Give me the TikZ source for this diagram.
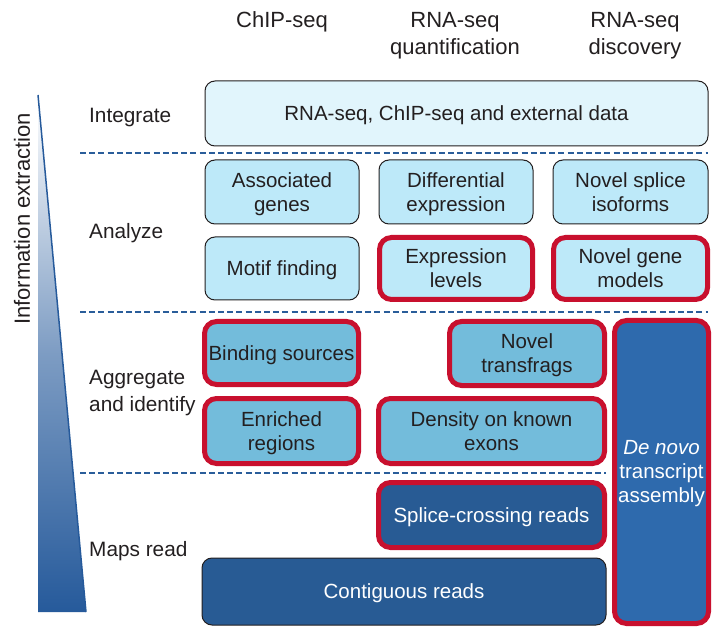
\documentclass[tikz,border=0pt]{standalone}
\usepackage{fontspec}
\setmainfont{Liberation Sans}
\usetikzlibrary{shadings}
\definecolor{txt}{RGB}{35,31,32}
\definecolor{palefill}{RGB}{225,245,252}
\definecolor{lightfill}{RGB}{189,233,249}
\definecolor{midfill}{RGB}{115,188,219}
\definecolor{darkfill}{RGB}{40,91,148}
\definecolor{novofill}{RGB}{46,106,173}
\definecolor{hl}{RGB}{200,16,46}
\definecolor{dashc}{RGB}{42,93,154}
\definecolor{tri}{RGB}{38,90,155}
\begin{document}
\begin{tikzpicture}[x=1pt,y=-1pt,
  base/.style={rounded corners=10pt, align=center, inner sep=0pt, text=txt,
    font=\fontsize{20.5}{24}\selectfont, text depth=-3pt},
  thinbox/.style={base, draw=txt, line width=1pt},
  redbox/.style={base, draw=hl, line width=5pt, rounded corners=12pt},
  pale/.style={fill=palefill},
  light/.style={fill=lightfill},
  mid/.style={fill=midfill},
  dark/.style={fill=darkfill, text=white},
  novo/.style={fill=novofill, text=white},
  header/.style={align=center, text=txt, font=\fontsize{22}{27}\selectfont, inner sep=0pt},
  rowlabel/.style={align=left, anchor=west, text=txt, font=\fontsize{20.8}{27}\selectfont, inner sep=0pt},
  sep/.style={dashc, line width=2.5pt, dash pattern=on 6pt off 3.2pt}
]
\useasboundingbox (0,0) rectangle (715,644);
% triangle
\shade[top color=white, bottom color=tri, middle color={tri!60}] (38,95) -- (86,612) -- (38,612) -- cycle;
\draw[tri, line width=1.5pt] (38,95) -- (86,612);
\node[rotate=90, text=txt, font=\fontsize{22}{26}\selectfont, inner sep=0pt] (ie) at (22,219) {Information extraction};
% headers
\node[header] (h1) at (282,22) {ChIP-seq};
\node[header] (h2) at (455,36) {RNA-seq\\quantification};
\node[header] (h3) at (635,36) {RNA-seq\\discovery};
% row labels
\node[rowlabel] (l1) at (89,118) {Integrate};
\node[rowlabel] (l2) at (89,233) {Analyze};
\node[rowlabel] (l3) at (89,393) {Aggregate\\and identify};
\node[rowlabel] (l4) at (89,551) {Maps read};
% separators
\coordinate (s1a) at (80,153); \coordinate (s1b) at (708,153);
\coordinate (s2a) at (80,312); \coordinate (s2b) at (708,312);
\coordinate (s3a) at (80,473); \coordinate (s3b) at (606,473);
\draw[sep] (s1a) -- (s1b);
\draw[sep] (s2a) -- (s2b);
\draw[sep] (s3a) -- (s3b);
% boxes
\node[thinbox, pale, minimum width=503pt, minimum height=65pt] (integ) at (456.5,113.5) {RNA-seq, ChIP-seq and external data};
\node[thinbox, light, minimum width=154pt, minimum height=64pt] (assoc) at (282,192) {Associated\\genes};
\node[thinbox, light, minimum width=154pt, minimum height=64pt] (diff) at (456,192) {Differential\\expression};
\node[thinbox, light, minimum width=155pt, minimum height=64pt] (splice) at (630.5,192) {Novel splice\\isoforms};
\node[thinbox, light, minimum width=154pt, minimum height=63pt] (motif) at (282,268.5) {Motif finding};
\node[redbox, light, minimum width=153pt, minimum height=62pt] (expr) at (456,268.5) {Expression\\levels};
\node[redbox, light, minimum width=154pt, minimum height=62pt] (genem) at (630.5,268.5) {Novel gene\\models};
\node[redbox, mid, minimum width=154pt, minimum height=63pt] (bind) at (281.5,353) {Binding sources};
\node[redbox, mid, minimum width=155pt, minimum height=64pt] (transf) at (527,353.5) {Novel\\transfrags};
\node[redbox, mid, minimum width=154pt, minimum height=65pt] (enr) at (281.5,431) {Enriched\\regions};
\node[redbox, mid, minimum width=226pt, minimum height=65pt] (dens) at (491.5,431) {Density on known\\exons};
\node[redbox, novo, minimum width=94pt, minimum height=303pt] (denovo) at (661.5,472) {};
\node[text=white, align=center, inner sep=0pt, font=\fontsize{20.5}{24}\selectfont] (denovot) at (661.5,474) {\textit{De novo}\\transcript\\assembly};
\node[redbox, dark, minimum width=226pt, minimum height=65pt] (scr) at (491.5,515) {Splice-crossing reads};
\node[thinbox, dark, minimum width=404pt, minimum height=67pt] (contig) at (404,591.5) {Contiguous reads};
\end{tikzpicture}
\end{document}
